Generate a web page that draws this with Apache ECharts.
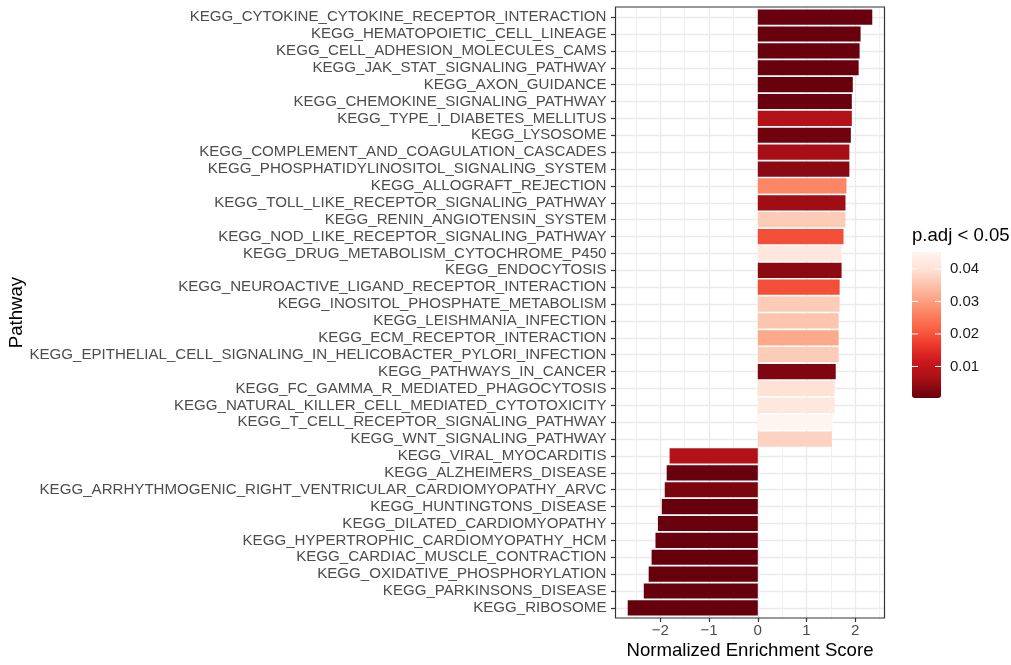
<!DOCTYPE html>
<html>
<head>
<meta charset="utf-8">
<script src="https://cdn.jsdelivr.net/npm/echarts@6/dist/echarts.min.js"></script>
<style>
  html, body { margin: 0; padding: 0; background: #ffffff; }
  #chart { width: 1011px; height: 665px; }
</style>
</head>
<body>
<div id="chart"></div>
<script>
// KEGG pathways, top to bottom
const pathways = [
  'KEGG_CYTOKINE_CYTOKINE_RECEPTOR_INTERACTION',
  'KEGG_HEMATOPOIETIC_CELL_LINEAGE',
  'KEGG_CELL_ADHESION_MOLECULES_CAMS',
  'KEGG_JAK_STAT_SIGNALING_PATHWAY',
  'KEGG_AXON_GUIDANCE',
  'KEGG_CHEMOKINE_SIGNALING_PATHWAY',
  'KEGG_TYPE_I_DIABETES_MELLITUS',
  'KEGG_LYSOSOME',
  'KEGG_COMPLEMENT_AND_COAGULATION_CASCADES',
  'KEGG_PHOSPHATIDYLINOSITOL_SIGNALING_SYSTEM',
  'KEGG_ALLOGRAFT_REJECTION',
  'KEGG_TOLL_LIKE_RECEPTOR_SIGNALING_PATHWAY',
  'KEGG_RENIN_ANGIOTENSIN_SYSTEM',
  'KEGG_NOD_LIKE_RECEPTOR_SIGNALING_PATHWAY',
  'KEGG_DRUG_METABOLISM_CYTOCHROME_P450',
  'KEGG_ENDOCYTOSIS',
  'KEGG_NEUROACTIVE_LIGAND_RECEPTOR_INTERACTION',
  'KEGG_INOSITOL_PHOSPHATE_METABOLISM',
  'KEGG_LEISHMANIA_INFECTION',
  'KEGG_ECM_RECEPTOR_INTERACTION',
  'KEGG_EPITHELIAL_CELL_SIGNALING_IN_HELICOBACTER_PYLORI_INFECTION',
  'KEGG_PATHWAYS_IN_CANCER',
  'KEGG_FC_GAMMA_R_MEDIATED_PHAGOCYTOSIS',
  'KEGG_NATURAL_KILLER_CELL_MEDIATED_CYTOTOXICITY',
  'KEGG_T_CELL_RECEPTOR_SIGNALING_PATHWAY',
  'KEGG_WNT_SIGNALING_PATHWAY',
  'KEGG_VIRAL_MYOCARDITIS',
  'KEGG_ALZHEIMERS_DISEASE',
  'KEGG_ARRHYTHMOGENIC_RIGHT_VENTRICULAR_CARDIOMYOPATHY_ARVC',
  'KEGG_HUNTINGTONS_DISEASE',
  'KEGG_DILATED_CARDIOMYOPATHY',
  'KEGG_HYPERTROPHIC_CARDIOMYOPATHY_HCM',
  'KEGG_CARDIAC_MUSCLE_CONTRACTION',
  'KEGG_OXIDATIVE_PHOSPHORYLATION',
  'KEGG_PARKINSONS_DISEASE',
  'KEGG_RIBOSOME'
];

// Normalized enrichment score per pathway
const nes = [
  2.35, 2.11, 2.09, 2.07, 1.95, 1.93, 1.93, 1.91, 1.88, 1.88,
  1.82, 1.80, 1.80, 1.76, 1.72, 1.72, 1.68, 1.68, 1.66, 1.66,
  1.66, 1.60, 1.58, 1.58, 1.54, 1.52,
  -1.81, -1.87, -1.91, -1.97, -2.05, -2.10, -2.18, -2.24, -2.34, -2.67
];

// Adjusted p-value per pathway
const padj = [
  0.0004, 0.0004, 0.0004, 0.0004, 0.0005, 0.0004, 0.0080, 0.0011, 0.0059, 0.0036,
  0.0265, 0.0055, 0.0365, 0.0193, 0.0417, 0.0035, 0.0193, 0.0365, 0.0355, 0.0315,
  0.0365, 0.0025, 0.0401, 0.0417, 0.0452, 0.0375,
  0.0080, 0.0004, 0.0020, 0.0003, 0.0004, 0.0004, 0.0003, 0.0003, 0.0003, 0.0003
];

const xTicks = [-2, -1, 0, 1, 2];
const legendTicks = [0.01, 0.02, 0.03, 0.04];
const reds = ['#67000d', '#a50f15', '#cb181d', '#ef3b2c', '#fb6a4a', '#fc9272', '#fcbba1', '#fee0d2', '#fff5f0'];

// ---- layout ----
const W = 1011, H = 665;
const FONT = '"Liberation Sans", Arial, Helvetica, sans-serif';
const PANEL = { left: 615.5, right: 884.5, top: 7, bottom: 618 };
const GRID_COL = '#ebebeb';
const INK = '#333333';

// value range expanded by 5% like a ggplot continuous scale
const lo = Math.min(0, Math.min(...nes));
const hi = Math.max(0, Math.max(...nes));
const pad = (hi - lo) * 0.05;
const xMin = lo - pad, xMax = hi + pad;
const pxPerUnit = (PANEL.right - PANEL.left) / (xMax - xMin);
const xToPx = v => PANEL.left + (v - xMin) * pxPerUnit;

// discrete axis: 0.6 band expansion at each end
const n = pathways.length;
const band = (PANEL.bottom - PANEL.top) / (n - 1 + 1.2);

const pMin = Math.min(...padj), pMax = Math.max(...padj);

const LEG = { left: 912, top: 252, width: 29, height: 146 };

const grids = [
  // 0: bars + pathway labels
  { left: PANEL.left, right: W - PANEL.right, top: PANEL.top + 0.1 * band, bottom: H - (PANEL.bottom - 0.1 * band) },
  // 1: major vertical grid + x ticks/labels
  { left: xToPx(xTicks[0]), right: W - xToPx(xTicks[xTicks.length - 1]), top: PANEL.top, bottom: H - PANEL.bottom },
  // 2: minor vertical grid
  { left: xToPx(xTicks[0] - 0.5), right: W - xToPx(xTicks[xTicks.length - 1] + 0.5), top: PANEL.top, bottom: H - PANEL.bottom },
  // 3: horizontal grid at category centres
  { left: PANEL.left, right: W - PANEL.right, top: PANEL.top + 0.6 * band, bottom: H - (PANEL.bottom - 0.6 * band) },
  // 4: panel border
  { left: PANEL.left, right: W - PANEL.right, top: PANEL.top, bottom: H - PANEL.bottom,
    show: true, borderColor: INK, borderWidth: 1.2, backgroundColor: 'transparent', z: 5 }
];

const hiddenValue = (gi, extra) => Object.assign({ type: 'value', gridIndex: gi, show: false }, extra || {});

const option = {
  animation: false,
  backgroundColor: '#ffffff',
  textStyle: { fontFamily: FONT },
  grid: grids,
  xAxis: [
    hiddenValue(0, { min: xMin, max: xMax }),
    {
      type: 'value', gridIndex: 1, min: xTicks[0], max: xTicks[xTicks.length - 1], interval: 1,
      axisLine: { show: false, onZero: false },
      axisTick: { show: true, length: 4, lineStyle: { color: INK, width: 1.2 } },
      axisLabel: {
        show: true, margin: 5, fontSize: 15.1, color: '#4d4d4d', fontFamily: FONT,
        formatter: v => (v < 0 ? '\u2212' + Math.abs(v) : String(v))
      },
      splitLine: { show: true, lineStyle: { color: GRID_COL, width: 1.4 } }
    },
    {
      type: 'value', gridIndex: 2, min: xTicks[0] - 0.5, max: xTicks[xTicks.length - 1] + 0.5, interval: 1,
      axisLine: { show: false }, axisTick: { show: false }, axisLabel: { show: false },
      splitLine: { show: true, lineStyle: { color: GRID_COL, width: 0.7 } }
    },
    hiddenValue(3, { min: 0, max: 1 }),
    hiddenValue(4, { min: 0, max: 1 })
  ],
  yAxis: [
    {
      type: 'category', gridIndex: 0, data: pathways, inverse: true,
      axisLine: { show: false, onZero: false },
      axisTick: { show: true, alignWithLabel: true, interval: 0, length: 4.5, lineStyle: { color: INK, width: 1.2 } },
      axisLabel: { show: true, interval: 0, margin: 9, fontSize: 15.1, color: '#4d4d4d', fontFamily: FONT },
      splitLine: { show: false }
    },
    hiddenValue(1, { min: 0, max: 1 }),
    hiddenValue(2, { min: 0, max: 1 }),
    {
      type: 'value', gridIndex: 3, min: 1, max: n, interval: 1,
      axisLine: { show: false }, axisTick: { show: false }, axisLabel: { show: false },
      splitLine: { show: true, lineStyle: { color: GRID_COL, width: 1.4 } }
    },
    hiddenValue(4, { min: 0, max: 1 })
  ],
  visualMap: {
    type: 'continuous',
    seriesIndex: 0,
    dimension: 2,
    min: pMin,
    max: pMax,
    calculable: false,
    orient: 'vertical',
    left: LEG.left,
    top: LEG.top,
    itemWidth: LEG.width,
    itemHeight: LEG.height,
    padding: 0,
    text: null,
    showLabel: false,
    inRange: { color: reds }
  },
  series: [{
    type: 'bar',
    xAxisIndex: 0,
    yAxisIndex: 0,
    barWidth: '90%',
    encode: { x: 0, y: 1 },
    data: nes.map((v, i) => [v, pathways[i], padj[i]]),
    itemStyle: { borderWidth: 0 },
    emphasis: { disabled: true }
  }],
  graphic: []
};

// axis titles
option.graphic.push({
  type: 'text', x: (PANEL.left + PANEL.right) / 2, y: 651, z: 10,
  style: { text: 'Normalized Enrichment Score', font: '18.6px ' + FONT, fill: '#000', align: 'center', verticalAlign: 'middle' }
});
option.graphic.push({
  type: 'text', x: 17, y: (PANEL.top + PANEL.bottom) / 2, rotation: Math.PI / 2, z: 10,
  style: { text: 'Pathway', font: '18.6px ' + FONT, fill: '#000', align: 'center', verticalAlign: 'middle' }
});

// colour bar title, ticks and labels
option.graphic.push({
  type: 'text', x: LEG.left, y: 236, z: 10,
  style: { text: 'p.adj < 0.05', font: '18.6px ' + FONT, fill: '#000', align: 'left', verticalAlign: 'middle' }
});
legendTicks.forEach(t => {
  const y = LEG.top + LEG.height * (pMax - t) / (pMax - pMin);
  option.graphic.push({
    type: 'line', z: 20, shape: { x1: LEG.left, y1: y, x2: LEG.left + 6, y2: y },
    style: { stroke: '#ffffff', lineWidth: 1 }
  });
  option.graphic.push({
    type: 'line', z: 20, shape: { x1: LEG.left + LEG.width - 6, y1: y, x2: LEG.left + LEG.width, y2: y },
    style: { stroke: '#ffffff', lineWidth: 1 }
  });
  option.graphic.push({
    type: 'text', x: 950, y: y, z: 20,
    style: { text: t.toFixed(2), font: '15px ' + FONT, fill: '#1a1a1a', align: 'left', verticalAlign: 'middle' }
  });
});

const chart = echarts.init(document.getElementById('chart'), null, { renderer: 'canvas' });
chart.setOption(option);
</script>
</body>
</html>
